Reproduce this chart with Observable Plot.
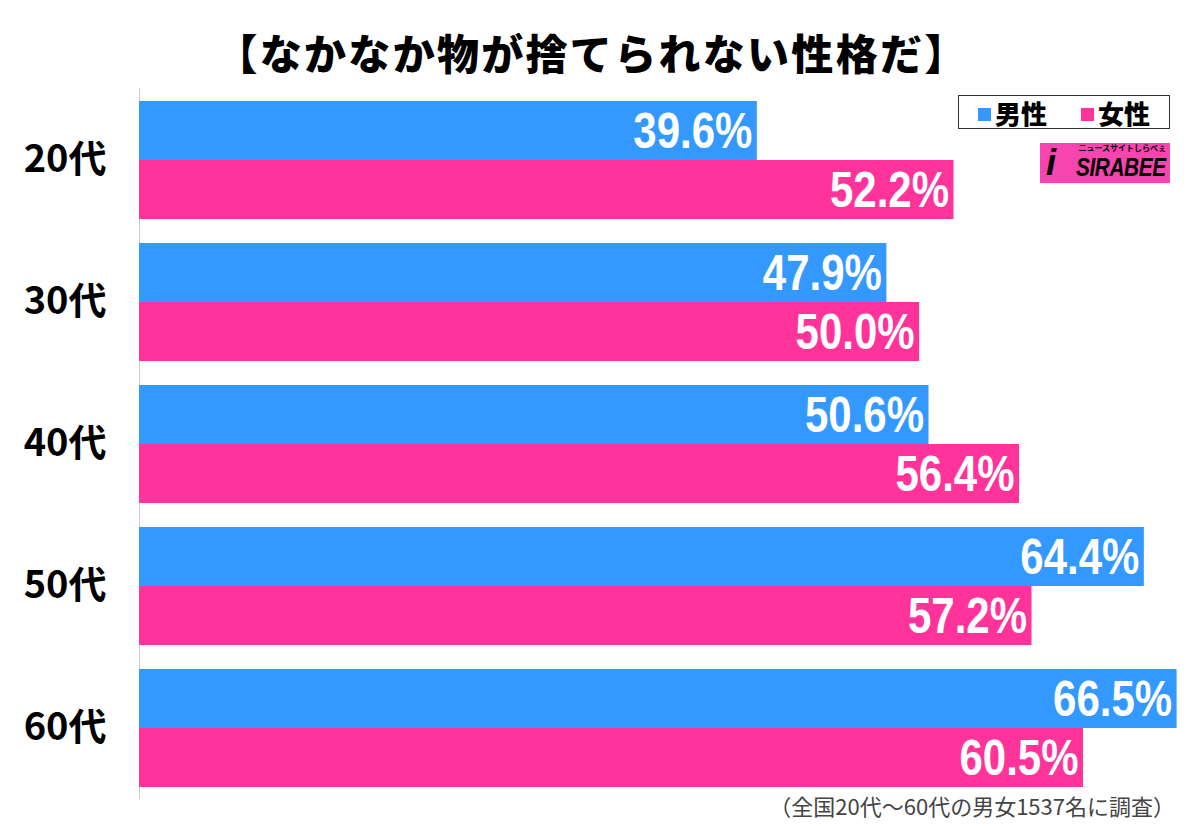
<!DOCTYPE html>
<html><head><meta charset="utf-8">
<script src="https://cdn.jsdelivr.net/npm/d3@7"></script>
<script src="https://cdn.jsdelivr.net/npm/@observablehq/plot@0.6"></script>
<style>
body{margin:0;background:#fff;width:1200px;height:826px;position:relative;overflow:hidden;font-family:"Noto Sans CJK JP",sans-serif}
#title{position:absolute;left:0;top:27px;width:1184px;text-align:center;font-size:42px;font-weight:900;letter-spacing:2.3px;line-height:50px;color:#000}
#chart{position:absolute;left:0;top:88px}
#legend{position:absolute;left:958px;top:95px;width:210px;height:32px;border:1.5px solid #333;background:#fff;display:flex;align-items:center;justify-content:center;gap:34px;font-size:26px;font-weight:900;color:#000;z-index:2}
#legend span.sw{display:inline-block;width:13px;height:13px;margin-right:4px;vertical-align:middle;position:relative;top:-2px}
#logo{position:absolute;left:1040px;top:143px;width:130px;height:40px;background:#f744ae;z-index:2;overflow:hidden}
#logo .sub{position:absolute;right:4px;top:0px;font-size:8px;line-height:10px;font-weight:700;color:#000}
#logo .main{position:absolute;left:36px;top:10px;font-family:"Liberation Sans",sans-serif;font-style:italic;font-weight:900;font-size:26px;line-height:28px;color:#000;transform:scaleX(0.8);transform-origin:0 0;letter-spacing:-0.5px}
#logo .i{position:absolute;left:6px;top:0px;font-family:"Liberation Sans",sans-serif;font-style:italic;font-weight:900;font-size:36px;line-height:40px;color:#000}
#caption{position:absolute;right:25px;top:790px;font-size:22px;line-height:30px;color:#444}
svg text{font-weight:bold}
</style>
</head><body>
<div id="title">【なかなか物が捨てられない性格だ】</div>
<div id="chart"></div>
<div id="legend"><div><span class="sw" style="background:#3399ff"></span>男性</div><div><span class="sw" style="background:#ff3399"></span>女性</div></div>
<div id="logo"><span class="i">i</span><span class="sub">ニュースサイトしらべぇ</span><span class="main">SIRABEE</span></div>
<div id="caption">（全国20代～60代の男女1537名に調査）</div>
<script>
const ages = ["20代","30代","40代","50代","60代"];
const seriesNames = ["男性","女性"];
const male = [39.6, 47.9, 50.6, 64.4, 66.5];
const female = [52.2, 50.0, 56.4, 57.2, 60.5];
const colors = ["#3399ff","#ff3399"];

const rows = ages.flatMap((a, i) => [
  {age: a, sex: seriesNames[0], v: male[i]},
  {age: a, sex: seriesNames[1], v: female[i]}
]);

const chart = Plot.plot({
  width: 1200,
  height: 714,
  marginLeft: 139,
  marginRight: 0,
  marginTop: 11,
  marginBottom: 14,
  style: {fontFamily: "'Noto Sans CJK JP', sans-serif", background: "transparent"},
  x: {domain: [0, 68], axis: null},
  y: {domain: seriesNames, padding: 0, axis: null},
  fy: {domain: ages, paddingInner: 0.162, paddingOuter: 0, axis: null},
  color: {domain: seriesNames, range: colors},
  marks: [
    Plot.ruleX([0], {stroke: "#cccccc", strokeWidth: 1, insetTop: -12, insetBottom: -12}),
    Plot.barX(rows, {fy: "age", y: "sex", x: "v", fill: "sex"}),
    Plot.text(rows, {fy: "age", y: "sex", x: "v", text: d => d.v.toFixed(1) + "%", textAnchor: "end", dx: -5, dy: 1, fill: "white", fontSize: 50, fontWeight: "bold", fontFamily: "'Liberation Sans', sans-serif", className: "vlabel"}),
    Plot.axisFy({anchor: "left", tickSize: 0, tickPadding: 33, fontSize: 38, fontWeight: "bold", label: null, fill: "#000"})
  ]
});
// condense the value labels horizontally around their right anchor
d3.select(chart).selectAll(".vlabel text").each(function() {
  const t = this.getAttribute("transform") || "";
  this.setAttribute("transform", t + " scale(0.84,1)");
});
document.getElementById("chart").appendChild(chart);
</script>
</body></html>
